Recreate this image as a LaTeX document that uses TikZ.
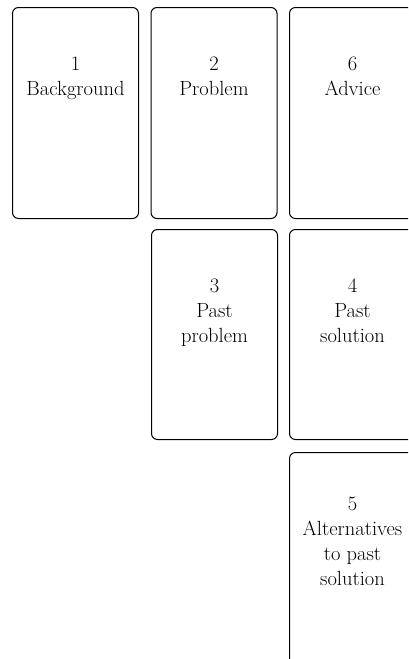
\documentclass[tikz,border=0pt]{standalone}
\begin{document}
\begin{tikzpicture}[x=1pt,y=-1pt,
  card/.style={draw=black, line width=1pt, rounded corners=6pt, minimum width=126pt, minimum height=211pt, inner sep=0pt, anchor=north west},
  cardtext/.style={anchor=north, align=center, inner sep=0pt, font=\fontsize{20.5}{25}\selectfont}]
\useasboundingbox (0,0) rectangle (408,659);
\begin{scope}
\clip (0,0) rectangle (408,659);
\node[card] (b1) at (12,7) {};
\node[card] (b2) at (150.5,7) {};
\node[card] (b6) at (289,7) {};
\node[card, minimum height=210pt] (b3) at (151,229) {};
\node[card, minimum height=210pt] (b4) at (289,229) {};
\node[card, minimum height=212pt] (b5) at (289,452) {};
\end{scope}
\node[cardtext] (t1) at ([yshift=-50pt]b1.north) {1\\Background};
\node[cardtext] (t2) at ([yshift=-50pt]b2.north) {2\\Problem};
\node[cardtext] (t6) at ([yshift=-50pt]b6.north) {6\\Advice};
\node[cardtext] (t3) at ([yshift=-50pt]b3.north) {3\\Past\\problem};
\node[cardtext] (t4) at ([yshift=-50pt]b4.north) {4\\Past\\solution};
\node[cardtext] (t5) at ([yshift=-45pt]b5.north) {5\\Alternatives\\to past\\solution};
\end{tikzpicture}
\end{document}
